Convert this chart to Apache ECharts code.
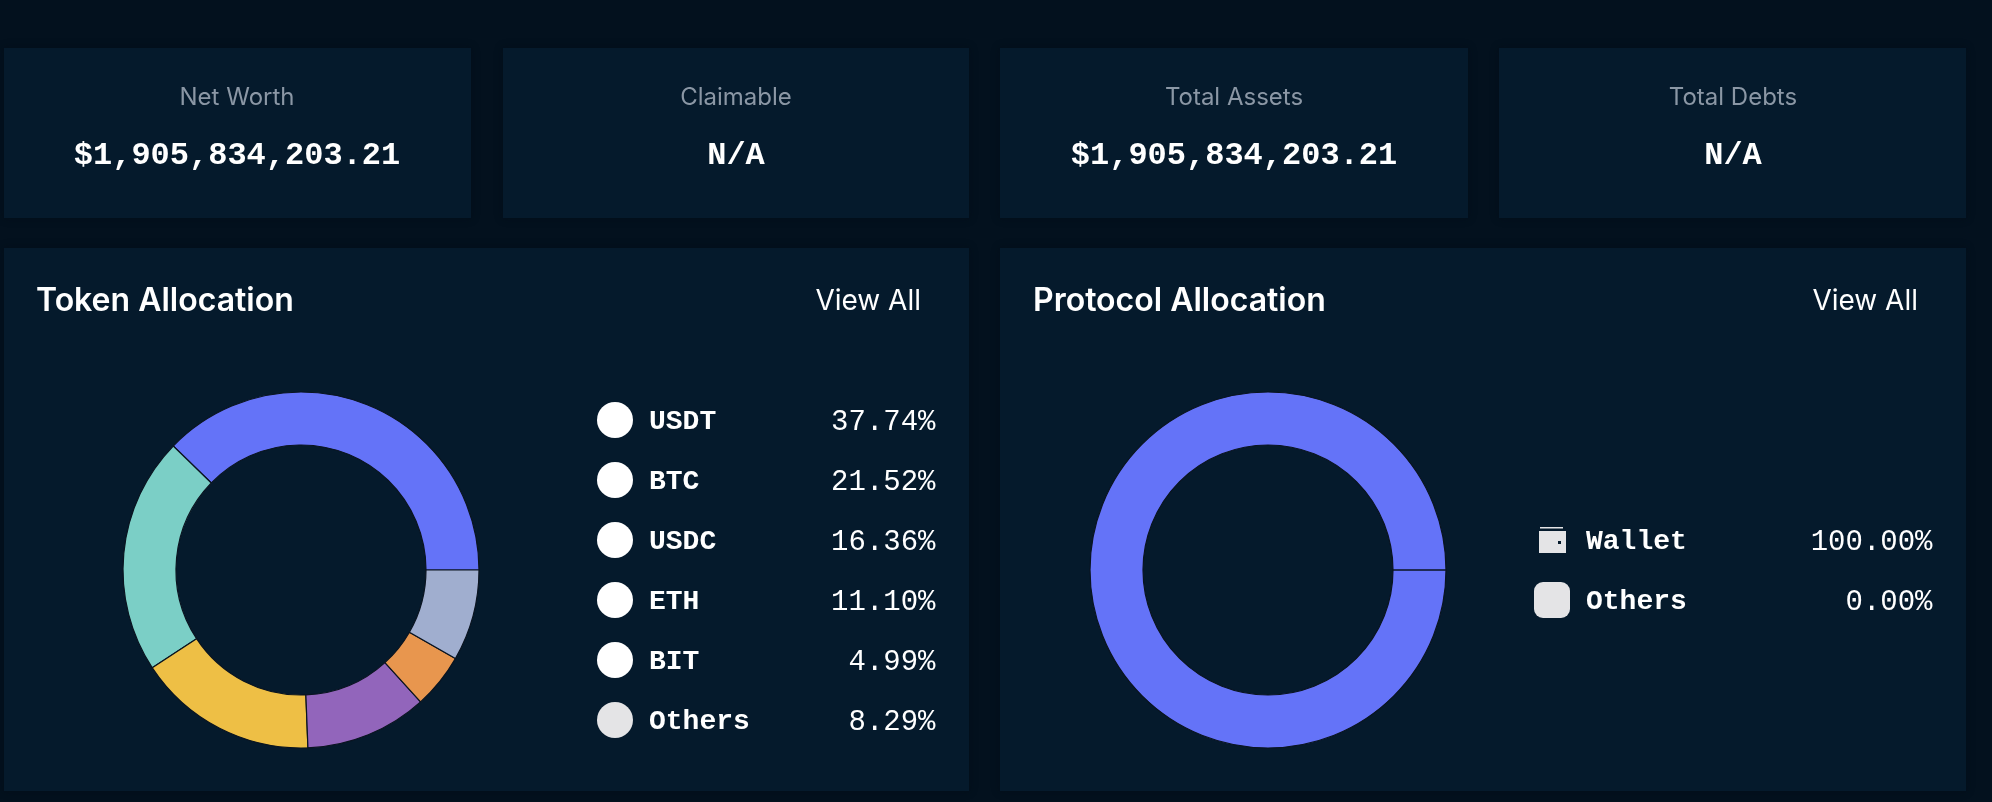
<!DOCTYPE html>
<html>
<head>
<meta charset="utf-8">
<style>
  html, body { margin: 0; padding: 0; background: #03111e; }
  #chart-container { width: 1992px; height: 802px; }
</style>
<script src="https://cdn.jsdelivr.net/npm/echarts@6/dist/echarts.min.js"></script>
</head>
<body>
<div id="chart-container"></div>
<script>
// Summary cards
var statLabels = ['Net Worth', 'Claimable', 'Total Assets', 'Total Debts'];
var statValues = ['$1,905,834,203.21', 'N/A', '$1,905,834,203.21', 'N/A'];

// Token donut
var tokenNames = ['USDT', 'BTC', 'USDC', 'ETH', 'BIT', 'Others'];
var tokenValues = [37.74, 21.52, 16.36, 11.10, 4.99, 8.29];
var tokenColors = ['#6473f8', '#7bcfc6', '#eebf45', '#9265bb', '#e8964e', '#a0aecf'];

// Protocol donut. Others is tiny but not zero so the seam at 3 o'clock is still drawn
var protocolNames = ['Wallet', 'Others'];
var protocolValues = [99.998, 0.002];
var protocolColors = ['#6473f8', '#e4e4e6'];

var SANS = 'Inter';
var MONO = 'Liberation Mono';
var CARD = '#051a2c';
var WALLET_ICON = 'path://M0 0M36 36M6 5H29V6.5H6ZM5 9H32V31H5ZM24 19V22H27V19Z';

var dom = document.getElementById('chart-container');
var myChart = echarts.init(dom, null, { renderer: 'canvas' });

function card(x, y, w, h) {
	return {
		type: 'rect', silent: true, z: 0,
		shape: { x: x, y: y, width: w, height: h },
		style: { fill: CARD, shadowBlur: 8, shadowColor: 'rgba(0,8,16,0.35)' }
	};
}

function label(text, x, y, size, color, weight, family, align) {
	return {
		type: 'text', silent: true, z: 1, x: x, y: y,
		style: {
			text: text, fill: color, fontSize: size, fontWeight: weight,
			fontFamily: family, align: align || 'center', verticalAlign: 'middle'
		}
	};
}

var graphics = [card(4, 48, 467, 170), card(503, 48, 466, 170), card(1000, 48, 468, 170), card(1499, 48, 467, 170),
	card(4, 248, 965, 543), card(1000, 248, 966, 543)];

var statCenters = [237, 736, 1234, 1733];
statLabels.forEach(function (t, i) {
	graphics.push(label(t, statCenters[i], 98, 24, '#8b97a5', 400, SANS));
	graphics.push(label(statValues[i], statCenters[i], 156, 32, '#ffffff', 700, MONO));
});

graphics.push(label('Token Allocation', 36, 301, 32, '#ffffff', 600, SANS, 'left'));
graphics.push(label('Protocol Allocation', 1033, 301, 32, '#ffffff', 600, SANS, 'left'));
graphics.push(label('View All', 921, 302, 28, '#ffffff', 400, SANS, 'right'));
graphics.push(label('View All', 1918, 302, 28, '#ffffff', 400, SANS, 'right'));

function legendRows(names, values) {
	return function (name) {
		var i = names.indexOf(name);
		return '{n|' + name + '}{p|' + values[i].toFixed(2) + '%}';
	};
}

function legendRich(pctWidth) {
	return {
		n: { width: 140, padding: [4, 0, 0, 11], fontFamily: MONO, fontSize: 28, fontWeight: 700, color: '#ffffff' },
		p: { width: pctWidth, padding: [4, 0, 0, 0], align: 'right', fontFamily: MONO, fontSize: 29, color: '#ffffff' }
	};
}

function donut(names, values, colors, center) {
	return {
		type: 'pie',
		radius: [125, 178],
		center: center,
		startAngle: 0,
		clockwise: false,
		silent: true,
		animation: false,
		label: { show: false },
		labelLine: { show: false },
		itemStyle: { borderColor: '#0a1420', borderWidth: 1.2 },
		data: names.map(function (n, i) {
			return { name: n, value: values[i], itemStyle: { color: colors[i] } };
		})
	};
}

var option = {
	backgroundColor: '#03111e',
	animation: false,
	graphic: graphics,
	legend: [
		{
			left: 597, top: 402, padding: 0, orient: 'vertical', selectedMode: false,
			itemWidth: 36, itemHeight: 36, itemGap: 24, itemStyle: { borderWidth: 0 },
			data: tokenNames.map(function (n) {
				return { name: n, icon: 'circle', itemStyle: { color: n === 'Others' ? '#e4e4e6' : '#ffffff' } };
			}),
			formatter: legendRows(tokenNames, tokenValues),
			textStyle: { rich: legendRich(146.5) }
		},
		{
			left: 1534, top: 522, padding: 0, orient: 'vertical', selectedMode: false,
			itemWidth: 36, itemHeight: 36, itemGap: 24, itemStyle: { borderWidth: 0 },
			data: [
				{ name: 'Wallet', icon: WALLET_ICON, itemStyle: { color: '#e4e4e6' } },
				{ name: 'Others', icon: 'roundRect', itemStyle: { color: '#e4e4e6' } }
			],
			formatter: legendRows(protocolNames, protocolValues),
			textStyle: { rich: legendRich(206.5) }
		}
	],
	series: [
		donut(tokenNames, tokenValues, tokenColors, [301, 570]),
		donut(protocolNames, protocolValues, protocolColors, [1268, 570])
	]
};

myChart.setOption(option);
window.addEventListener('resize', myChart.resize);
</script>
</body>
</html>
